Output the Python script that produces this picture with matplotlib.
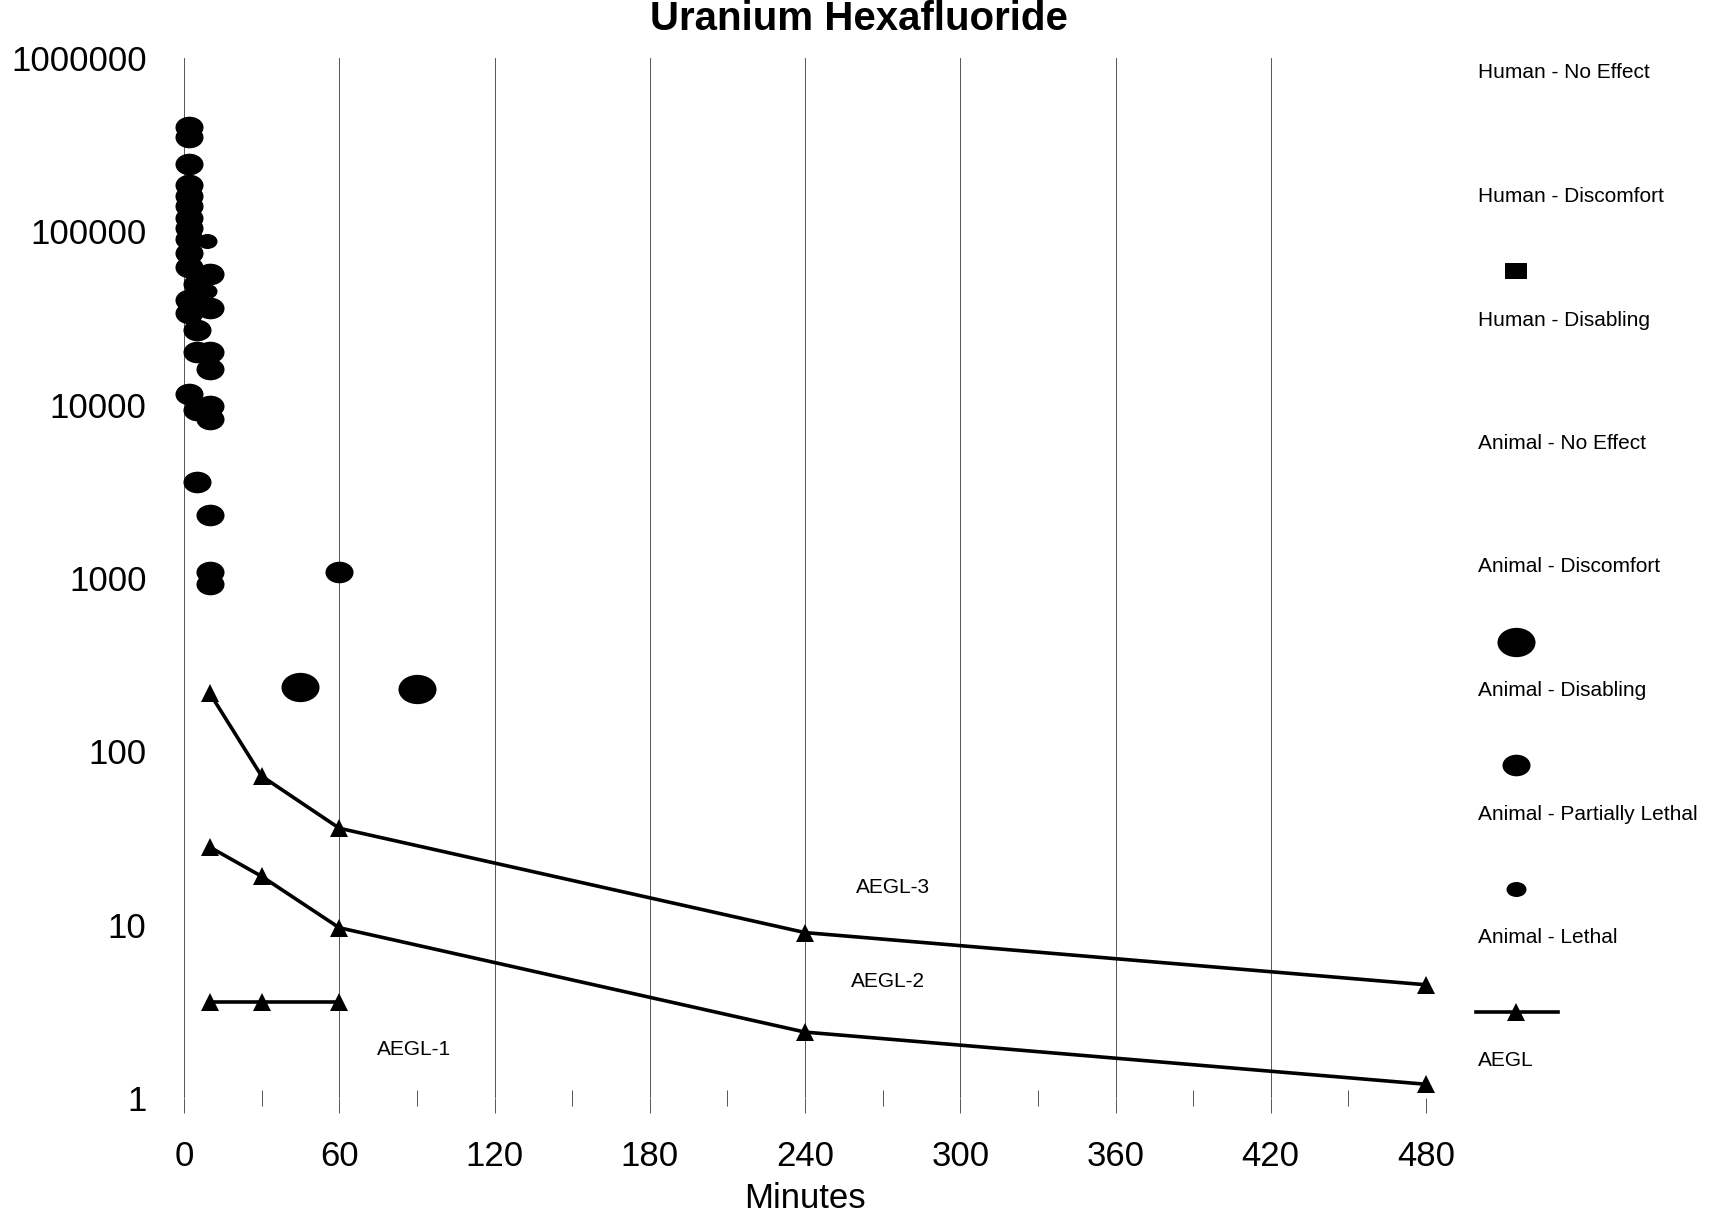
import matplotlib
matplotlib.use("Agg")
import matplotlib.pyplot as plt
from matplotlib.path import Path
from matplotlib.transforms import Affine2D
from matplotlib.ticker import FixedLocator, NullLocator

plt.rcParams['font.family'] = ['Liberation Sans', 'DejaVu Sans']

# ---------------- data ----------------
title = "Uranium Hexafluoride"
x_label = "Minutes"
x_ticks = [0, 60, 120, 180, 240, 300, 360, 420, 480]
x_minor_ticks = [30, 90, 150, 210, 270, 330, 390, 450]
y_ticks = [1, 10, 100, 1000, 10000, 100000, 1000000]
y_tick_labels = ["1", "10", "100", "1000", "10000", "100000", "1000000"]

# exposure points (minutes, mg/m3)
human_no_effect_t, human_no_effect_c = [], []
human_discomfort_t, human_discomfort_c = [], []
human_disabling_t, human_disabling_c = [], []
animal_no_effect_t, animal_no_effect_c = [], []
animal_discomfort_t, animal_discomfort_c = [], []
animal_disabling_t = [45, 90]
animal_disabling_c = [235, 230]
animal_partial_t = [2, 2, 2, 2, 2, 2, 2, 2, 2, 2, 2, 2, 2, 2,
                    5, 5, 5, 5, 5, 5,
                    10, 10, 10, 10, 10, 10, 10, 10, 10, 60]
animal_partial_c = [400000, 350000, 245000, 185000, 160000, 140000, 120000,
                    105000, 90000, 75000, 62000, 40000, 34000, 11500,
                    50000, 38000, 27000, 20000, 9300, 3600,
                    57000, 36000, 20000, 16000, 9800, 8300, 2300, 1080, 925,
                    1080]
animal_lethal_t = [9, 9]
animal_lethal_c = [88000, 45000]

aegl_t = [10, 30, 60, 240, 480]
aegl3_c = [216, 72, 36, 9.0, 4.5]
aegl2_c = [28, 19, 9.6, 2.4, 1.2]
aegl1_t = [10, 30, 60]
aegl1_c = [3.6, 3.6, 3.6]

aegl_label_text = ["AEGL-3", "AEGL-2", "AEGL-1"]
aegl_label_t = [274, 272, 89]
aegl_label_c = [16.4, 4.7, 1.9]

legend_labels = ["Human - No Effect", "Human - Discomfort", "Human - Disabling",
                 "Animal - No Effect", "Animal - Discomfort", "Animal - Disabling",
                 "Animal - Partially Lethal", "Animal - Lethal", "AEGL"]

# ---------------- marker shapes ----------------
def ellipse(aspect):
    return Path.unit_circle().transformed(Affine2D().scale(1.0, aspect))

rect = Path([(-1, -0.75), (1, -0.75), (1, 0.75), (-1, 0.75), (-1, -0.75)],
            [Path.MOVETO, Path.LINETO, Path.LINETO, Path.LINETO, Path.CLOSEPOLY])

styles = [
    dict(marker='o', ms=14, color='white'),
    dict(marker='o', ms=14, color='white'),
    dict(marker=rect, ms=16, color='black'),
    dict(marker='o', ms=14, color='white'),
    dict(marker='o', ms=14, color='white'),
    dict(marker=ellipse(0.77), ms=27.4, color='black'),
    dict(marker=ellipse(0.77), ms=20.2, color='black'),
    dict(marker=ellipse(0.75), ms=14.4, color='black'),
]
series = [
    (human_no_effect_t, human_no_effect_c),
    (human_discomfort_t, human_discomfort_c),
    (human_disabling_t, human_disabling_c),
    (animal_no_effect_t, animal_no_effect_c),
    (animal_discomfort_t, animal_discomfort_c),
    (animal_disabling_t, animal_disabling_c),
    (animal_partial_t, animal_partial_c),
    (animal_lethal_t, animal_lethal_c),
]

# ---------------- figure ----------------
W, H = 1718, 1212
fig = plt.figure(figsize=(W / 100, H / 100), dpi=100)
fig.patch.set_facecolor('white')
ax = fig.add_axes([184 / W, (H - 1098) / H, (1426 - 184) / W, (1098 - 58) / H])
ax.set_yscale('log')
ax.set_xlim(0, 480)
ax.set_ylim(1, 1e6)
for s in ax.spines.values():
    s.set_visible(False)

grid_col = '#555555'
ax.xaxis.set_major_locator(FixedLocator(x_ticks))
ax.xaxis.set_minor_locator(FixedLocator(x_minor_ticks))
ax.set_xticklabels([str(v) for v in x_ticks])
ax.grid(axis='x', which='major', color=grid_col, lw=0.7, zorder=0)
ax.tick_params(axis='x', which='major', length=11, width=0.7, color=grid_col,
               direction='out', pad=19, labelsize=25)
ax.tick_params(axis='x', which='minor', length=11, width=0.7, color=grid_col,
               direction='inout')

ax.yaxis.set_major_locator(FixedLocator(y_ticks))
ax.yaxis.set_minor_locator(NullLocator())
ax.set_yticklabels(y_tick_labels)
ax.tick_params(axis='y', which='major', length=0, pad=27, labelsize=25)

ax.set_xlabel(x_label, fontsize=25, labelpad=7)
fig.text(0.5, 1 - 30 / H, title, ha='center', va='baseline',
         fontsize=29, fontweight='bold')

for (t, c), st in zip(series, styles):
    if t:
        ax.plot(t, c, linestyle='none', marker=st['marker'], ms=st['ms'],
                mfc=st['color'], mec=st['color'], mew=0, clip_on=False, zorder=3)

for t, c in [(aegl_t, aegl3_c), (aegl_t, aegl2_c), (aegl1_t, aegl1_c)]:
    ax.plot(t, c, color='black', lw=2.6, marker='^', ms=12.5, mew=0,
            clip_on=False, zorder=4)

for txt, t, c in zip(aegl_label_text, aegl_label_t, aegl_label_c):
    ax.text(t, c, txt, ha='center', va='center', fontsize=15)

# ---------------- legend ----------------
lax = fig.add_axes([0, 0, 1, 1])
lax.set_xlim(0, W)
lax.set_ylim(H, 0)
lax.axis('off')
lax.patch.set_alpha(0)
for i, lab in enumerate(legend_labels):
    ty = 73 + 123.5 * i
    my = ty - 49
    lax.text(1478, ty, lab, ha='left', va='center', fontsize=15)
    if i < len(styles):
        st = styles[i]
        lax.plot([1516], [my], linestyle='none', marker=st['marker'], ms=st['ms'],
                 mfc=st['color'], mec=st['color'], mew=0)
    else:
        lax.plot([1476, 1558], [my, my], color='black', lw=2.6)
        lax.plot([1516], [my], linestyle='none', marker='^', ms=12.5,
                 color='black', mew=0)

fig.savefig('out.png', dpi=100)
